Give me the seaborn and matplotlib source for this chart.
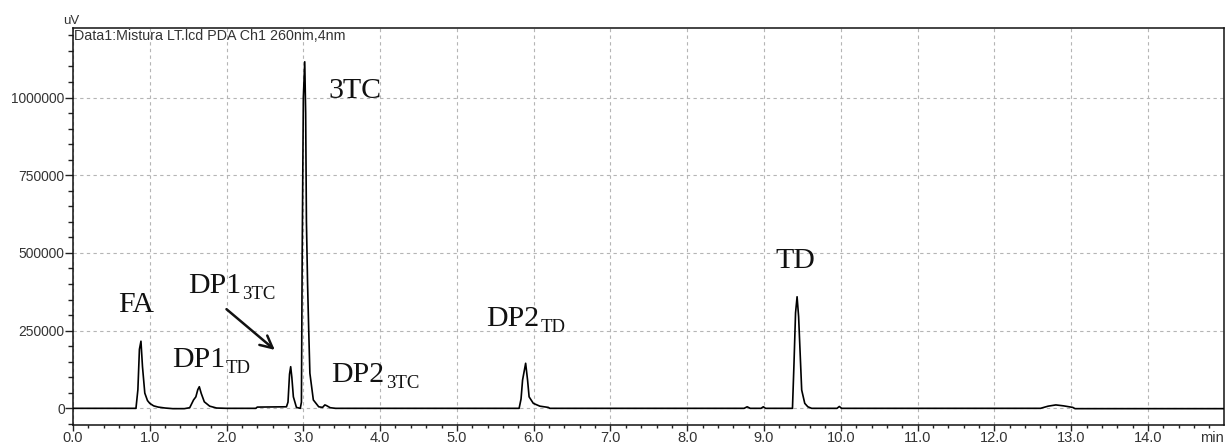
import matplotlib
matplotlib.use("Agg")
import matplotlib.pyplot as plt
import seaborn as sns
import pandas as pd
from matplotlib.ticker import FixedLocator, MultipleLocator

# ---- data (time in min, signal in uV) ----
time_min = [
    0.0, 0.82, 0.845, 0.865, 0.885, 0.905, 0.935, 0.97, 1.0, 1.05, 1.11, 1.2, 1.3, 1.45,
    1.52, 1.57, 1.60, 1.625, 1.645, 1.67, 1.71, 1.78, 1.87, 2.0,
    2.38, 2.40, 2.78, 2.80, 2.82, 2.835, 2.85, 2.87, 2.91, 2.96,
    2.975, 2.985, 3.0, 3.018, 3.03, 3.04, 3.055, 3.07, 3.085, 3.13, 3.2,
    3.25, 3.28, 3.30, 3.35, 3.42,
    5.81, 5.835, 5.855, 5.895, 5.92, 5.94, 5.995, 6.08, 6.19, 6.21,
    8.74, 8.78, 8.82, 8.96, 8.99, 9.02,
    9.37, 9.39, 9.41, 9.43, 9.45, 9.47, 9.49, 9.53, 9.57, 9.62,
    9.95, 9.98, 10.01,
    12.6, 12.7, 12.8, 12.9, 13.02, 13.05, 15.0,
]
signal_uv = [
    0, 0, 60000, 190000, 216000, 134000, 49000, 25000, 16000, 8000, 4000, 1000, -1000, -1000,
    2000, 27000, 37000, 60000, 69500, 48000, 21000, 7000, 1000, 0,
    0, 4000, 5000, 20000, 110000, 134000, 100000, 37000, 3000, 0,
    20000, 500000, 1000000, 1115000, 950000, 600000, 400000, 250000, 113000, 27000, 5000,
    3000, 11000, 9000, 2000, 0,
    0, 30000, 91000, 145000, 91000, 37000, 16000, 7000, 3000, 0,
    0, 5000, 0, 0, 5000, 0,
    0, 145000, 307000, 359000, 295000, 177000, 59000, 16000, 5000, 0,
    0, 6000, 0,
    0, 7000, 11000, 8000, 3000, -1000, -1000,
]

x_ticks = [0.0, 1.0, 2.0, 3.0, 4.0, 5.0, 6.0, 7.0, 8.0, 9.0, 10.0, 11.0, 12.0, 13.0, 14.0]
x_tick_labels = ["0.0", "1.0", "2.0", "3.0", "4.0", "5.0", "6.0", "7.0", "8.0", "9.0",
                 "10.0", "11.0", "12.0", "13.0", "14.0"]
y_ticks = [0, 250000, 500000, 750000, 1000000]
y_tick_labels = ["0", "250000", "500000", "750000", "1000000"]

# peak labels: (main text, subscript, x, y baseline)
label_main = ["3TC", "FA", "DP1", "DP1", "DP2", "DP2", "TD"]
label_sub = ["", "", "TD", "3TC", "3TC", "TD", ""]
label_x = [3.33, 0.583, 1.286, 1.495, 3.366, 5.384, 9.151]
label_y = [998000, 310000, 134000, 370000, 86000, 266000, 450000]

header_text = "Data1:Mistura LT.lcd PDA Ch1 260nm,4nm"
y_unit = "uV"
x_unit = "min"

# ---- plot ----
sns.set_style("white")
plt.rcParams["font.family"] = ["Liberation Sans", "DejaVu Sans"]

W, H = 1226, 448
fig = plt.figure(figsize=(W / 100, H / 100), dpi=100)
ax_left, ax_right, ax_top, ax_bottom = 73.0, 1224.0, 27.7, 424.5
ax = fig.add_axes([ax_left / W, (H - ax_bottom) / H, (ax_right - ax_left) / W,
                   (ax_bottom - ax_top) / H])

df = pd.DataFrame({"time": time_min, "signal": signal_uv})
sns.lineplot(data=df, x="time", y="signal", ax=ax, color="black", lw=1.2,
             estimator=None, sort=False, zorder=3)

ax.set_xlim(0, 14.99)
ax.set_ylim(-52000, 1224600)

ax.xaxis.set_major_locator(FixedLocator(x_ticks))
ax.set_xticklabels(x_tick_labels)
ax.xaxis.set_minor_locator(MultipleLocator(0.2))
ax.yaxis.set_major_locator(FixedLocator(y_ticks))
ax.set_yticklabels(y_tick_labels)
ax.yaxis.set_minor_locator(MultipleLocator(50000))

ax.tick_params(axis="both", which="both", direction="out", width=1.0, color="#222222",
               labelcolor="#333333", bottom=True, left=True)
ax.tick_params(axis="y", which="major", length=5.5, pad=0.5, labelsize=9.9)
ax.tick_params(axis="y", which="minor", length=3.5)
ax.tick_params(axis="x", which="major", length=4.0, pad=0.8, labelsize=10.5)
ax.tick_params(axis="x", which="minor", length=2.2)

ax.grid(True, which="major", linestyle=(0, (3, 3)), color="#b5b5b5", lw=0.8, zorder=0)
for s in ax.spines.values():
    s.set_visible(True)
    s.set_color("#111111")
    s.set_linewidth(1.1)

ax.set_xlabel("")
ax.set_ylabel("")

serif = "Liberation Serif"
for main, sub, lx, ly in zip(label_main, label_sub, label_x, label_y):
    t = ax.text(lx, ly, main, fontsize=21.5, family=serif, ha="left", va="baseline",
                color="#111111", zorder=4)
    if sub:
        ax.annotate(sub, xy=(1, 0), xycoords=t, xytext=(1, -4),
                    textcoords="offset pixels", fontsize=13.5, family=serif,
                    ha="left", va="bottom", color="#111111", zorder=4)

ax.annotate("", xy=(2.628, 188000), xytext=(1.999, 319000),
            arrowprops=dict(arrowstyle="->", color="#111111", lw=1.8,
                            mutation_scale=22, shrinkA=0, shrinkB=0))

ax.text(0.001, 0.996, header_text, transform=ax.transAxes, ha="left", va="top",
        fontsize=10.3, color="#333333")
fig.text(71 / W, 1 - 21 / H, y_unit, ha="center", va="center", fontsize=9.5,
         color="#333333")
fig.text(1224 / W, 1 - 431 / H, x_unit, ha="right", va="top", fontsize=10.5,
         color="#333333")

fig.savefig("out.png", dpi=100)
